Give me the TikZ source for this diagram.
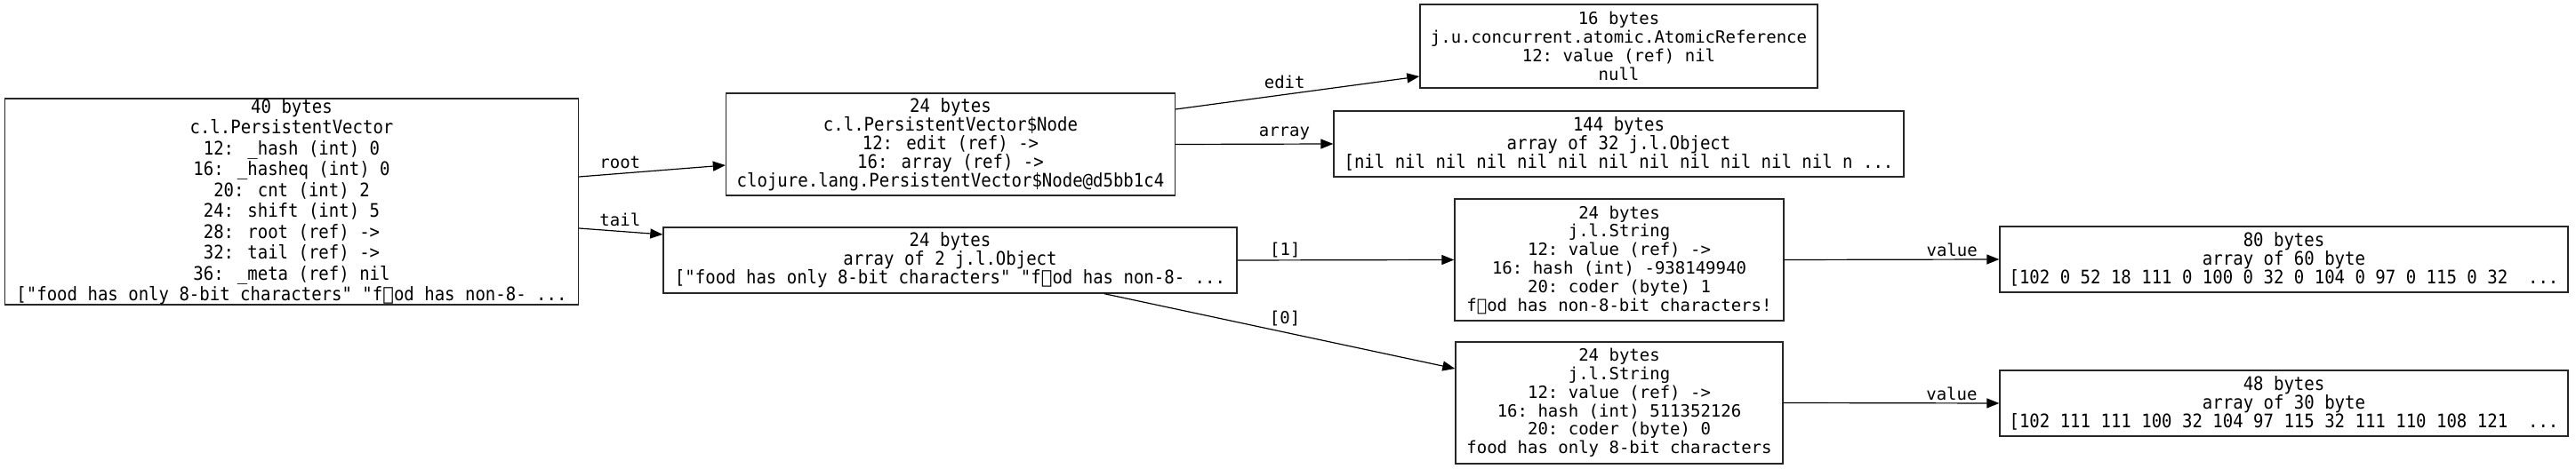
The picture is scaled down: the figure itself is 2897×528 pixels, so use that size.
\documentclass[tikz,border=0pt]{standalone}
\usepackage{fontspec}
\setmonofont{DejaVu Sans Mono}
\newfontfamily\ethfont{DejaVu Sans}
\newfontfamily\narrowmono{DejaVu Sans Mono}[FakeStretch=0.905]
\usetikzlibrary{arrows.meta}
\newcommand{\oddch}{{\ethfont ሴ}}
\tikzset{
  obj/.style={draw=black!85, line width=0.7pt, rectangle, inner sep=0pt, align=center,
    font=\ttfamily\fontsize{9.5}{10.4}\selectfont},
  objN/.style={obj, font=\narrowmono\fontsize{10.5}{10.45}\selectfont},
  objA/.style={obj, font=\narrowmono\fontsize{10.5}{11.75}\selectfont},
  edge/.style={draw=black, line width=0.6pt, -{Triangle[length=7pt,width=5.5pt]}},
  lbl/.style={inner sep=0pt, font=\ttfamily\fontsize{9.5}{10.4}\selectfont}
}
\begin{document}
\begin{tikzpicture}[x=0.5pt,y=-0.5pt]
\fill[white] (0,0) rectangle (2897,528);
\useasboundingbox (0,0) rectangle (2897,528);

\node[objA, minimum width=322.5pt, minimum height=111pt] (A) at (328,227)
  {40 bytes\\c.l.PersistentVector\\12: \_hash (int) 0\\16: \_hasheq (int) 0\\20: cnt (int) 2\\24: shift (int) 5\\28: root (ref) ->\\32: tail (ref) ->\\36: \_meta (ref) nil\\{}["food has only 8-bit characters" "f\oddch od has non-8- ...};

\node[objN, minimum width=252.5pt, minimum height=57.5pt] (B) at (1069,162.5)
  {24 bytes\\c.l.PersistentVector\$Node\\12: edit (ref) ->\\16: array (ref) ->\\clojure.lang.PersistentVector\$Node@d5bb1c4};

\node[obj, minimum width=223.5pt, minimum height=47pt] (C) at (1820.5,52)
  {16 bytes\\j.u.concurrent.atomic.AtomicReference\\12: value (ref) nil\\null};

\node[objN, minimum width=320.5pt, minimum height=37pt] (D) at (1820.5,162)
  {144 bytes\\array of 32 j.l.Object\\{}[nil nil nil nil nil nil nil nil nil nil nil nil n ...};

\node[objN, minimum width=322.5pt, minimum height=37pt] (E) at (1068.5,293)
  {24 bytes\\array of 2 j.l.Object\\{}["food has only 8-bit characters" "f\oddch od has non-8- ...};

\node[obj, minimum width=185pt, minimum height=68.5pt] (F) at (1821,292.5)
  {24 bytes\\j.l.String\\12: value (ref) ->\\16: hash (int) -938149940\\20: coder (byte) 1\\f\oddch od has non-8-bit characters!};

\node[obj, minimum width=184pt, minimum height=68.5pt] (G) at (1821,453.5)
  {24 bytes\\j.l.String\\12: value (ref) ->\\16: hash (int) 511352126\\20: coder (byte) 0\\food has only 8-bit characters};

\node[objN, minimum width=319.5pt, minimum height=37pt] (H) at (2568.5,292)
  {80 bytes\\array of 60 byte\\{}[102 0 52 18 111 0 100 0 32 0 104 0 97 0 115 0 32\ \ ...};

\node[objN, minimum width=319.5pt, minimum height=37pt] (I) at (2568.5,454)
  {48 bytes\\array of 30 byte\\{}[102 111 111 100 32 104 97 115 32 111 110 108 121\ \ ...};

\draw[edge] ([yshift=14pt]A.east) -- node[lbl, pos=0.28, yshift=6.2pt] (lroot) {root} ([yshift=-11.75pt]B.west);
\draw[edge] ([yshift=-15pt]A.east) -- node[lbl, pos=0.49, yshift=6.5pt] (ltail) {tail} ([yshift=14.5pt]E.west);
\draw[edge] ([yshift=19.75pt]B.east) -- node[lbl, pos=0.447, yshift=7pt] (ledit) {edit} ([yshift=-17pt]C.west);
\draw[edge] (B.east) -- node[lbl, pos=0.69, yshift=6pt] (larray) {array} (D.west);
\draw[edge] (E.east) -- node[lbl, pos=0.22, yshift=5.5pt] (l1) {[1]} (F.west);
\draw[edge] ([xshift=86.75pt]E.south) -- node[lbl, pos=0.515, yshift=8pt] (l0) {[0]} ([yshift=19.25pt]G.west);
\draw[edge] (F.east) -- node[lbl, pos=0.78, yshift=5.5pt] (lv1) {value} (H.west);
\draw[edge] (G.east) -- node[lbl, pos=0.78, yshift=5.5pt] (lv2) {value} (I.west);
\end{tikzpicture}
\end{document}
